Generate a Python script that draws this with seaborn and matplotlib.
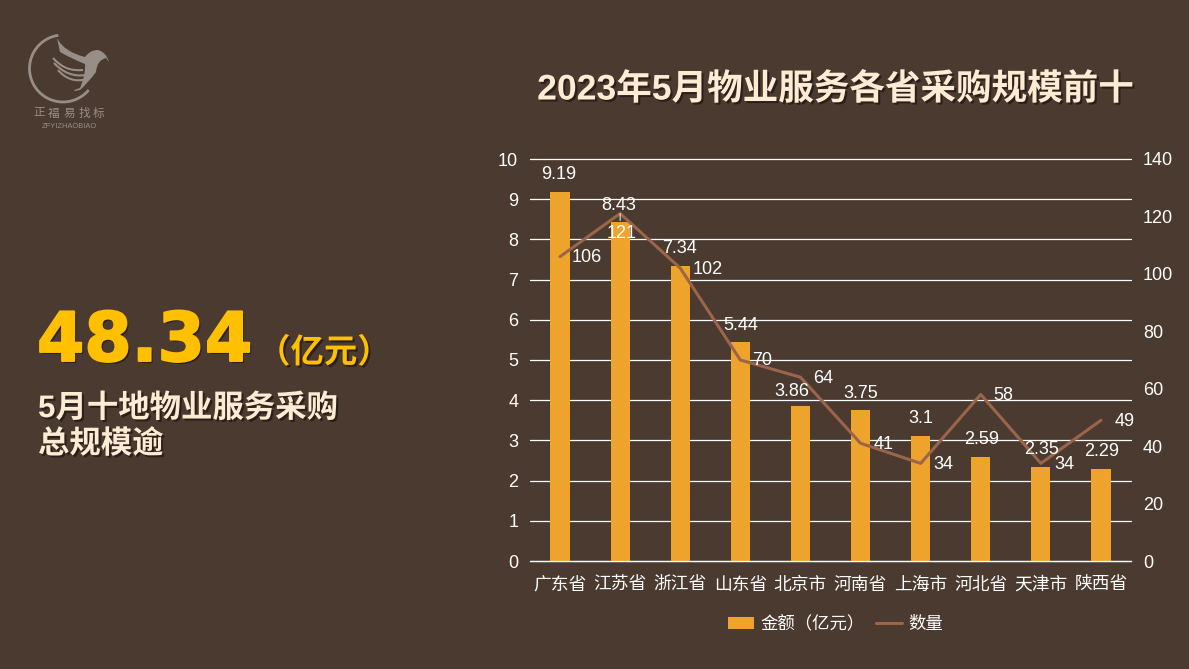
# -*- coding: utf-8 -*-
import numpy as np
import pandas as pd
import matplotlib
matplotlib.use("Agg")
import matplotlib.pyplot as plt
import matplotlib.patheffects as pe
from matplotlib.patches import Arc, PathPatch
from matplotlib.path import Path
from matplotlib.lines import Line2D
from matplotlib.patches import Patch
import seaborn as sns

provinces = ["广东省", "江苏省", "浙江省", "山东省", "北京市",
             "河南省", "上海市", "河北省", "天津市", "陕西省"]
amounts = [9.19, 8.43, 7.34, 5.44, 3.86, 3.75, 3.1, 2.59, 2.35, 2.29]
counts = [106, 121, 102, 70, 64, 41, 34, 58, 34, 49]
left_ticks = [0, 1, 2, 3, 4, 5, 6, 7, 8, 9, 10]
right_ticks = [0, 20, 40, 60, 80, 100, 120, 140]

# label offsets in pixels, from the mark
amount_offsets = [(-1, 17), (-1, 17), (-1, 17), (0, 17), (-9, 14),
                  (0, 17), (0, 18), (1, 17), (1, 17), (1, 17)]
count_offsets = [(27, -1), (1, -20), (27, -1), (22, -1), (23, -1),
                 (23, -1), (23, -1), (23, -1), (23, -1), (24, -1)]

BG = "#4B3A30"
BAR = "#EDA32C"
LINE = "#9C6549"
WHITE = "#FFFFFF"
CREAM = "#FDEBD3"
YELLOW = "#FFC000"
LOGO = "#968E87"
W, H = 1189, 669

sns.set_theme(style="white")
plt.rcParams["font.family"] = ["Liberation Sans", "Noto Sans CJK SC", "DejaVu Sans"]
plt.rcParams["axes.unicode_minus"] = False

df = pd.DataFrame({"province": provinces, "amount": amounts, "count": counts})

fig = plt.figure(figsize=(W / 100, H / 100), dpi=100, facecolor=BG)
ax = fig.add_axes([530 / W, 1 - 561 / H, 601 / W, 402 / H])
ax.set_facecolor("none")

sns.barplot(data=df, x="province", y="amount", color=BAR, saturation=1,
            width=0.32, ax=ax, zorder=2, edgecolor="none", linewidth=0)
ax.set_xlim(-0.5, 9.5)
ax.set_ylim(0, 10)
ax.set_yticks(left_ticks)
ax.yaxis.grid(True, color=WHITE, lw=0.9, clip_on=False)
ax.set_axisbelow(True)
ax.set_xlabel("")
ax.set_ylabel("")
ax.tick_params(axis="y", length=0, colors=WHITE, labelsize=13, pad=8.5)
ax.tick_params(axis="x", length=0, colors=WHITE, labelsize=12.8, pad=11.5)
sns.despine(ax=ax, left=True, right=True, top=True)
ax.spines["bottom"].set_color(WHITE)
ax.spines["bottom"].set_linewidth(0.9)

ax2 = ax.twinx()
sns.lineplot(data=df, x="province", y="count", color=LINE, lw=2.2, sort=False,
             ax=ax2, errorbar=None)
ax2.set_ylim(0, 140)
ax2.set_yticks(right_ticks)
ax2.set_ylabel("")
ax2.tick_params(axis="y", length=0, colors=WHITE, labelsize=13, pad=8.5)
ax2.grid(False)
for s in ax2.spines.values():
    s.set_visible(False)

for i, v in enumerate(amounts):
    dx, dy = amount_offsets[i]
    ax2.annotate(str(v), xy=(i, v * 14), xytext=(dx * 0.72, dy * 0.72),
                 textcoords="offset points", ha="center", va="center",
                 color=WHITE, fontsize=13)
for i, v in enumerate(counts):
    dx, dy = count_offsets[i]
    ax2.annotate(str(v), xy=(i, v), xytext=(dx * 0.72, dy * 0.72),
                 textcoords="offset points", ha="center", va="center",
                 color=WHITE, fontsize=13)
# short leader line of the 121 label
ax2.annotate("", xy=(1, counts[1]), xytext=(0, -5), textcoords="offset points",
             arrowprops=dict(arrowstyle="-", color=WHITE, lw=0.7, shrinkA=0, shrinkB=0))

handles = [Patch(color=BAR, lw=0, label="金额（亿元）"),
           Line2D([], [], color=LINE, lw=2.2, label="数量")]
fig.legend(handles=handles, loc="center", bbox_to_anchor=(835.5 / W, 1 - 624 / H),
           ncol=2, frameon=False, fontsize=12.5, labelcolor=WHITE,
           handlelength=1.5, handleheight=0.65, handletextpad=0.35,
           columnspacing=0.63, borderpad=0)

shadow = [pe.withSimplePatchShadow(offset=(1.5, -1.5), shadow_rgbFace="#241a14", alpha=0.8)]


def put(x, y, s, size, color, ha="left", family=None, effects=None):
    return fig.text(x / W, 1 - y / H, s, fontsize=size, color=color, ha=ha, va="center",
                    family=family or ["Liberation Sans", "Noto Sans CJK SC"],
                    weight="bold", path_effects=effects or shadow)


put(835, 90, "2023年5月物业服务各省采购规模前十", 25.6, CREAM, ha="center")
put(37, 342, "48.34", 49, YELLOW, family=["DejaVu Sans"],
    effects=shadow + [pe.withStroke(linewidth=1.4, foreground=YELLOW)])
put(324, 353, "（亿元）", 24, YELLOW, ha="center", family=["Noto Sans CJK SC"])
put(38, 409, "5月十地物业服务采购", 22.6, CREAM)
put(38, 445, "总规模逾", 22.6, CREAM)

# logo, drawn in pixel coordinates on a cover axes
lg = fig.add_axes([0, 0, 1, 1], facecolor="none")
lg.set_xlim(0, W)
lg.set_ylim(H, 0)
lg.axis("off")
lg.add_patch(Arc((63, 68.5), 67, 67, theta1=40, theta2=262, color=LOGO, lw=2))
M, C, L, Z = Path.MOVETO, Path.CURVE3, Path.LINETO, Path.CLOSEPOLY
wing = [(57, 38), (64, 52), (85, 57), (90, 50), (98, 50), (106, 52), (109, 62), (106, 58),
        (97, 60), (96, 72), (88, 83), (80, 90), (65, 93), (80, 88), (86, 74), (85, 64),
        (70, 58), (60, 52), (57, 38), (57, 38)]
codes = [M, C, C, C, C, C, C, L, C, C, C, C, C, C, C, C, C, C, C, Z]
lg.add_patch(PathPatch(Path(wing, codes), fc=LOGO, ec="none"))
for a, ctrl, b in [((53, 58), (65, 72), (83, 70)), ((54, 63), (68, 78), (86, 75)),
                   ((58, 70), (70, 84), (87, 79))]:
    lg.add_patch(PathPatch(Path([a, ctrl, b], [M, C, C]), fc="none", ec=LOGO, lw=1.5))
for k, ch in enumerate("正福易找标"):
    lg.text(39 + 15 * k, 113, ch, color=LOGO, fontsize=8.4, ha="center", va="center",
            family="Noto Sans CJK SC")
lg.text(69, 126, "ZFYIZHAOBIAO", color=LOGO, fontsize=5.4, ha="center", va="center")

fig.savefig("out.png", dpi=100, facecolor=BG)
